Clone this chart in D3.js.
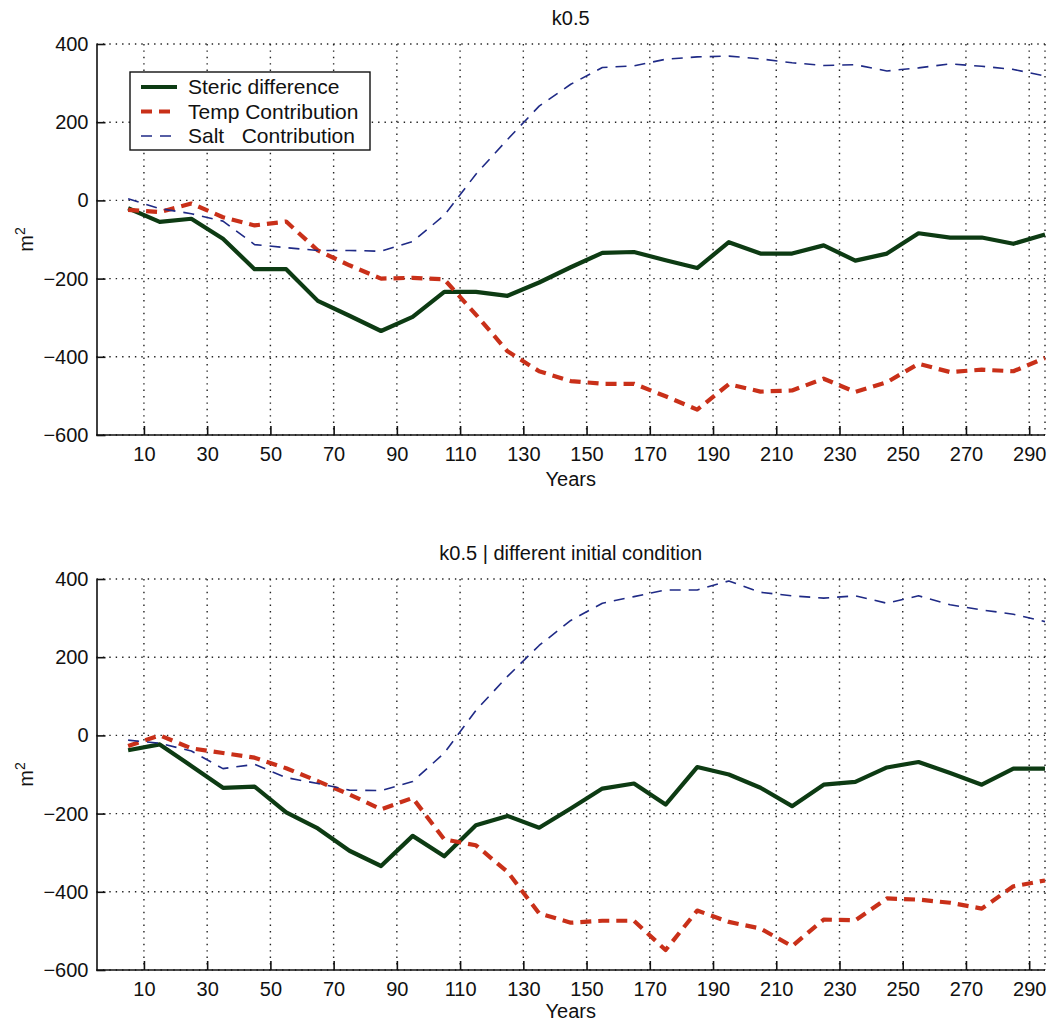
<!DOCTYPE html>
<html>
<head>
<meta charset="utf-8">
<script src="https://cdn.jsdelivr.net/npm/d3@7"></script>
<style>
  html, body { margin: 0; padding: 0; background: #fff; }
  svg { display: block; font-family: "Liberation Sans", Arial, Helvetica, sans-serif; }
</style>
</head>
<body>
<svg id="chart" width="1051" height="1023"></svg>
<script>
// Model years (decadal means)
const years = [5, 15, 25, 35, 45, 55, 65, 75, 85, 95,
               105, 115, 125, 135, 145, 155, 165, 175, 185, 195,
               205, 215, 225, 235, 245, 255, 265, 275, 285, 295];

const xTickValues = [10, 30, 50, 70, 90, 110, 130, 150, 170, 190, 210, 230, 250, 270, 290];
const yTickValues = [400, 200, 0, -200, -400, -600];

const seriesNames = ["Steric difference", "Temp Contribution", "Salt   Contribution"];
const panelTitles = ["k0.5", "k0.5 | different initial condition"];

// Run k0.5
const stericA = [-20, -55, -47, -98, -176, -176, -257, -295, -334, -298,
                 -234, -234, -244, -210, -171, -134, -132, -153, -173, -107,
                 -136, -136, -115, -154, -136, -84, -95, -95, -111, -87];
const tempA   = [-24, -30, -8, -43, -64, -54, -128, -166, -200, -198,
                 -202, -292, -386, -437, -462, -469, -469, -501, -535, -470,
                 -489, -486, -456, -490, -465, -418, -439, -433, -437, -403];
const saltA   = [4, -21, -34, -53, -113, -121, -128, -128, -130, -105,
                 -38, 67, 156, 241, 297, 340, 344, 361, 367, 369,
                 362, 352, 345, 347, 331, 339, 349, 343, 335, 318];

// Run k0.5, different initial condition
const stericB = [-38, -23, -78, -134, -131, -197, -238, -295, -334, -257,
                 -309, -230, -206, -236, -187, -136, -123, -177, -81, -100,
                 -134, -181, -126, -119, -82, -68, -96, -126, -85, -85];
const tempB   = [-27, 0, -33, -45, -57, -84, -117, -151, -189, -160,
                 -266, -281, -349, -455, -479, -474, -474, -549, -448, -477,
                 -494, -539, -471, -473, -417, -420, -428, -443, -386, -371];
const saltB   = [-12, -20, -40, -85, -74, -108, -123, -140, -141, -118,
                 -45, 64, 151, 230, 294, 338, 355, 372, 372, 395,
                 366, 357, 351, 357, 338, 357, 334, 321, 310, 291];

const styles = [
  { color: "#0d3b13", width: 4.2, dash: null },
  { color: "#c93019", width: 4.2, dash: "11,7" },
  { color: "#1f2a86", width: 1.6, dash: "11,8" }
];

const svg = d3.select("#chart");
const left = 96.5, right = 1045;

// Scanned-figure tint under the lower axis
const defs = svg.append("defs");
const grad = defs.append("linearGradient").attr("id", "axisTint")
  .attr("x1", "0%").attr("x2", "100%");
grad.append("stop").attr("offset", "0%").attr("stop-color", "#4a7fc0");
grad.append("stop").attr("offset", "55%").attr("stop-color", "#4a7fc0");
grad.append("stop").attr("offset", "100%").attr("stop-color", "#c8784a");

const panels = [
  { top: 44, bottom: 435, title: panelTitles[0], data: [stericA, tempA, saltA],
    legend: true, tint: false, xlabelGap: 51 },
  { top: 579, bottom: 970, title: panelTitles[1], data: [stericB, tempB, saltB],
    legend: false, tint: true, xlabelGap: 48 }
];

panels.forEach(p => {
  const x = d3.scaleLinear().domain([-5, 295]).range([left, right]);
  const y = d3.scaleLinear().domain([-600, 400]).range([p.bottom, p.top]);
  const g = svg.append("g");

  // dotted grid
  const grid = g.append("g").attr("stroke", "#222").attr("stroke-width", 1.4)
    .attr("stroke-dasharray", "1.4,5");
  grid.selectAll("line.v").data(xTickValues).join("line")
    .attr("x1", d => x(d)).attr("x2", d => x(d))
    .attr("y1", p.top).attr("y2", p.bottom);
  grid.selectAll("line.h").data(yTickValues).join("line")
    .attr("x1", left).attr("x2", right)
    .attr("y1", d => y(d)).attr("y2", d => y(d));
  grid.append("line").attr("x1", right).attr("x2", right)
    .attr("y1", p.top).attr("y2", p.bottom);

  if (p.tint) {
    g.append("line").attr("x1", left).attr("x2", right)
      .attr("y1", p.bottom + 1.2).attr("y2", p.bottom + 1.2)
      .attr("stroke", "url(#axisTint)").attr("stroke-width", 1.4);
  }

  // axes
  const xAxis = d3.axisBottom(x).tickValues(xTickValues).tickSizeInner(-9)
    .tickSizeOuter(0).tickPadding(12);
  const yAxis = d3.axisLeft(y).tickValues(yTickValues).tickSizeInner(-9)
    .tickSizeOuter(0).tickPadding(8);

  const gx = g.append("g").attr("transform", `translate(0,${p.bottom})`).call(xAxis);
  const gy = g.append("g").attr("transform", `translate(${left},0)`).call(yAxis);
  [gx, gy].forEach(a => {
    a.select(".domain").attr("stroke", "#111").attr("stroke-width", 1.6);
    a.selectAll(".tick line").attr("stroke", "#111").attr("stroke-width", 1.6);
    a.selectAll(".tick text").attr("fill", "#111").style("font-size", "20px")
      .style("font-family", "\"Liberation Sans\", Arial, Helvetica, sans-serif");
  });
  gx.select(".domain").attr("d", `M${left},0H${right}`);

  // series
  p.data.forEach((vals, i) => {
    const s = styles[i];
    const line = d3.line().x((d, k) => x(years[k])).y(d => y(d));
    g.append("path").datum(vals)
      .attr("d", line)
      .attr("fill", "none")
      .attr("stroke", s.color)
      .attr("stroke-width", s.width)
      .attr("stroke-linejoin", "round")
      .attr("stroke-dasharray", s.dash);
  });

  // titles and labels
  g.append("text").attr("x", (left + right) / 2).attr("y", p.top - 19)
    .attr("text-anchor", "middle").style("font-size", "20px").attr("fill", "#111")
    .text(p.title);
  g.append("text").attr("x", (left + right) / 2).attr("y", p.bottom + p.xlabelGap)
    .attr("text-anchor", "middle").style("font-size", "20px").attr("fill", "#111")
    .text("Years");
  const yl = g.append("text")
    .attr("transform", `translate(33,${(p.top + p.bottom) / 2}) rotate(-90)`)
    .attr("text-anchor", "middle").style("font-size", "20px").attr("fill", "#111");
  yl.append("tspan").text("m");
  yl.append("tspan").attr("dy", "-0.55em").style("font-size", "14px").text("2");

  // legend
  if (p.legend) {
    const lg = g.append("g");
    lg.append("rect").attr("x", 130).attr("y", 72).attr("width", 240).attr("height", 78)
      .attr("fill", "#fff").attr("stroke", "#111").attr("stroke-width", 1.4);
    seriesNames.forEach((name, i) => {
      const cy = 87 + i * 24.5;
      const s = styles[i];
      lg.append("line").attr("x1", 141).attr("x2", 177).attr("y1", cy).attr("y2", cy)
        .attr("stroke", s.color).attr("stroke-width", s.width)
        .attr("stroke-dasharray", s.dash);
      lg.append("text").attr("x", 188).attr("y", cy + 7)
        .style("font-size", "21px").style("white-space", "pre").attr("fill", "#111")
        .attr("xml:space", "preserve")
        .text(name);
    });
  }
});
</script>
</body>
</html>
